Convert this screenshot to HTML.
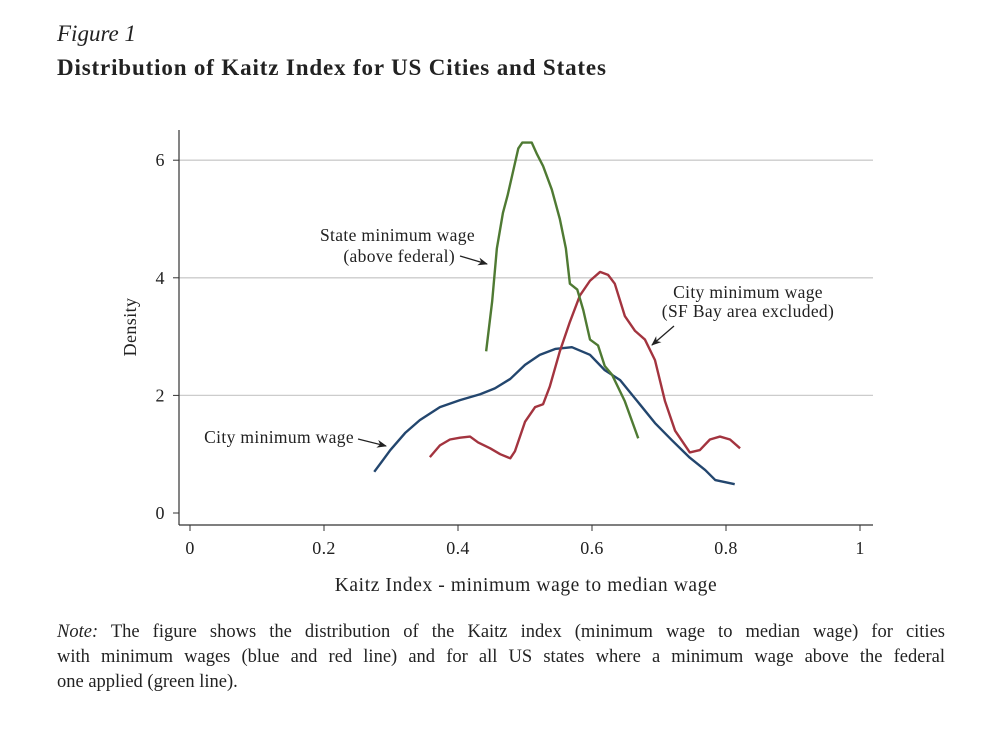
<!DOCTYPE html>
<html><head><meta charset="utf-8"><style>
body{margin:0;background:#fff;width:1000px;height:730px;overflow:hidden;font-family:"Liberation Serif",serif;color:#222}
.t1{position:absolute;left:57px;top:21px;font-size:23px;font-style:italic}
.t2{position:absolute;left:57px;top:55px;font-size:23px;font-weight:bold;letter-spacing:0.85px}
.note{position:absolute;left:57px;top:620px;width:888px;font-size:18.5px;line-height:25px}
.note div{text-align:justify;text-align-last:justify}
.note div.last{text-align-last:left}
svg{position:absolute;left:0;top:0}
svg text{font-family:"Liberation Serif",serif;fill:#222}
</style></head><body>
<div class="t1">Figure 1</div>
<div class="t2">Distribution of Kaitz Index for US Cities and States</div>
<svg width="1000" height="730" id="chart"></svg>
<div class="note"><div><i>Note:</i> The figure shows the distribution of the Kaitz index (minimum wage to median wage) for cities</div><div>with minimum wages (blue and red line) and for all US states where a minimum wage above the federal</div><div class="last">one applied (green line).</div></div>
<script>
const xTicks=[0,0.2,0.4,0.6,0.8,1];
const xTickLabels=["0","0.2","0.4","0.6","0.8","1"];
const yTicks=[0,2,4,6];
const greenX=[0.442,0.451,0.458,0.467,0.474,0.482,0.49,0.496,0.51,0.518,0.527,0.54,0.552,0.561,0.567,0.578,0.587,0.597,0.609,0.619,0.63,0.649,0.669];
const greenY=[2.75,3.6,4.5,5.1,5.4,5.8,6.2,6.3,6.3,6.1,5.9,5.5,5.0,4.5,3.9,3.8,3.45,2.95,2.85,2.5,2.35,1.9,1.27];
const redX=[0.358,0.373,0.388,0.403,0.418,0.43,0.448,0.463,0.478,0.485,0.5,0.515,0.527,0.537,0.552,0.567,0.582,0.597,0.612,0.624,0.634,0.649,0.664,0.679,0.694,0.709,0.724,0.746,0.761,0.776,0.791,0.806,0.821];
const redY=[0.95,1.15,1.25,1.28,1.3,1.2,1.1,1.0,0.93,1.05,1.55,1.8,1.85,2.15,2.75,3.25,3.7,3.95,4.1,4.05,3.9,3.35,3.1,2.95,2.6,1.9,1.4,1.03,1.07,1.25,1.3,1.25,1.1];
const blueX=[0.275,0.299,0.321,0.343,0.373,0.403,0.433,0.455,0.478,0.5,0.522,0.545,0.57,0.597,0.619,0.642,0.672,0.694,0.719,0.746,0.769,0.784,0.813];
const blueY=[0.7,1.07,1.36,1.58,1.8,1.92,2.02,2.12,2.28,2.52,2.69,2.79,2.82,2.69,2.43,2.26,1.84,1.53,1.24,0.94,0.73,0.56,0.49];
const NS="http://www.w3.org/2000/svg";
const svg=document.getElementById('chart');
const sx=v=>190+v*670, sy=v=>513-v*58.8;
function mk(tag,attrs,parent){const e=document.createElementNS(NS,tag);for(const k in attrs)e.setAttribute(k,attrs[k]);(parent||svg).appendChild(e);return e;}
yTicks.forEach(t=>{
  const g=mk('line',{x1:179,x2:873,y1:sy(t),y2:sy(t),stroke:t===0?'none':'#ccc','stroke-width':1.3});
  
  
  const tk=mk('line',{x1:173,x2:179,y1:sy(t),y2:sy(t),stroke:'#333'});
  
  
  const tx=mk('text',{x:160,y:sy(t)+6,'font-size':18,'text-anchor':'middle'});tx.textContent=t;
  
  
});
xTicks.forEach((t,i)=>{
  const tk=mk('line',{x1:sx(t),x2:sx(t),y1:525,y2:531,stroke:'#333'});
  
  
  const tx=mk('text',{x:sx(t),y:554,'font-size':18,'text-anchor':'middle','letter-spacing':0.3});tx.textContent=xTickLabels[i];
  
  
});
const ya=mk('line',{x1:179,x2:179,y1:130,y2:525,stroke:'#333','stroke-width':1.2});


const xa=mk('line',{x1:179,x2:873,y1:525,y2:525,stroke:'#333','stroke-width':1.2});


function series(xs,ys,color,name){
  const p=mk('polyline',{points:xs.map((x,i)=>sx(x)+','+sy(ys[i])).join(' '),fill:'none',stroke:color,'stroke-width':2.4,'stroke-linejoin':'round'});
  
  
}
series(blueX,blueY,'#23466e','city-line');
series(redX,redY,'#a3343f','city-excl-sf-line');
series(greenX,greenY,'#4f7a33','state-line');
const defs=mk('defs',{});
const m=mk('marker',{id:'ar',markerWidth:10,markerHeight:8,refX:9,refY:4,orient:'auto',markerUnits:'userSpaceOnUse'},defs);
mk('path',{d:'M0,0 L10,4 L0,8 L3,4 Z',fill:'#222'},m);
function lbl(x,y,txt,anchor,name){const t=mk('text',{x:x,y:y,'font-size':17.5,'text-anchor':anchor,'letter-spacing':0.35});t.textContent=txt;
  
  }
lbl(475,241,'State minimum wage','end','state-annotation');
lbl(455,262,'(above federal)','end','state-annotation-2');
lbl(748,298,'City minimum wage','middle','city-excl-annotation');
lbl(748,317,'(SF Bay area excluded)','middle','city-excl-annotation-2');
lbl(354,443,'City minimum wage','end','city-annotation');
[[460,256,487,264],[674,326,652,345],[358,439,386,446]].forEach(a=>{
  const l=mk('line',{x1:a[0],y1:a[1],x2:a[2],y2:a[3],stroke:'#222','stroke-width':1.3,'marker-end':'url(#ar)'});
  
  
});
const yt=mk('text',{x:0,y:0,'font-size':18,'text-anchor':'middle','letter-spacing':0.4,transform:'translate(136,327) rotate(-90)'});yt.textContent='Density';


const xt=mk('text',{x:526,y:591,'font-size':19.5,'text-anchor':'middle','letter-spacing':0.6});xt.textContent='Kaitz Index - minimum wage to median wage';


</script>
</body></html>
